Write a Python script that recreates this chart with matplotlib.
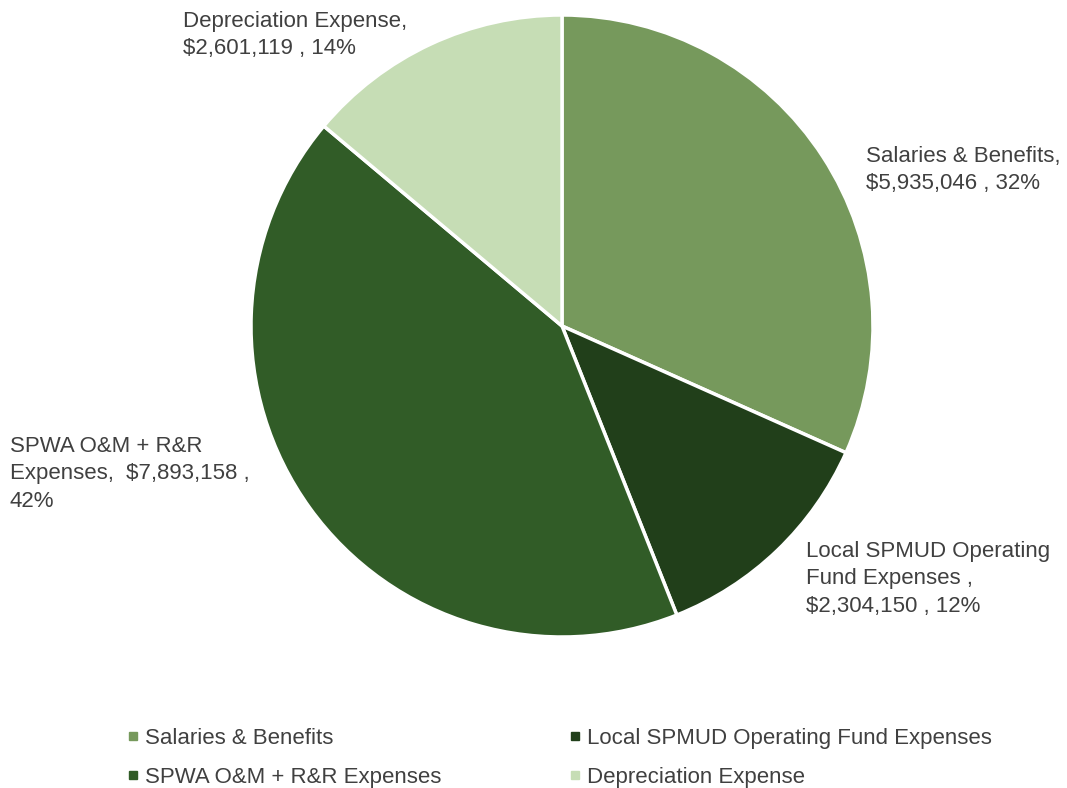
import matplotlib.pyplot as plt
from matplotlib.lines import Line2D

plt.rcParams['font.family'] = ['Liberation Sans', 'DejaVu Sans']

categories = ['Salaries & Benefits', 'Local SPMUD Operating Fund Expenses',
              'SPWA O&M + R&R Expenses', 'Depreciation Expense']
values = [5935046, 2304150, 7893158, 2601119]
colors = ['#76995c', '#213f1a', '#315c27', '#c6ddb5']
label_text = ['Salaries & Benefits,\n$5,935,046 , 32%',
              'Local SPMUD Operating\nFund Expenses ,\n$2,304,150 , 12%',
              'SPWA O&M + R&R\nExpenses,  $7,893,158 ,\n42%',
              'Depreciation Expense,\n$2,601,119 , 14%']
# label anchor (top-left) in pixels
label_px = [(866, 146), (806, 541), (10, 436), (183, 11)]

W, H = 1067, 788
cx, cy, r = 562, 326, 311
fig = plt.figure(figsize=(W / 100, H / 100), dpi=100)
ax = fig.add_axes([(cx - r) / W, (H - cy - r) / H, 2 * r / W, 2 * r / H])
ax.pie(values, colors=colors, startangle=90, counterclock=False, radius=1,
       wedgeprops=dict(edgecolor='white', linewidth=2.5))
ax.set_xlim(-1, 1)
ax.set_ylim(-1, 1)
ax.set_aspect('equal')
ax.axis('off')

for txt, (px, py) in zip(label_text, label_px):
    fig.text(px / W, 1 - py / H, txt, ha='left', va='top', fontsize=16,
             color='#404040', linespacing=1.4)

order = [0, 2, 1, 3]
handles = [Line2D([], [], marker='s', linestyle='none', markersize=6,
                  color=colors[i]) for i in order]
fig.legend(handles, [categories[i] for i in order], ncol=2,
           loc='upper left', bbox_to_anchor=(113 / W, 1 - 712 / H),
           frameon=False, fontsize=16, labelcolor='#404040',
           handlelength=0.4, handletextpad=0.35, columnspacing=5.8,
           labelspacing=0.82, borderpad=0.2)

fig.savefig('out.png', dpi=100)
